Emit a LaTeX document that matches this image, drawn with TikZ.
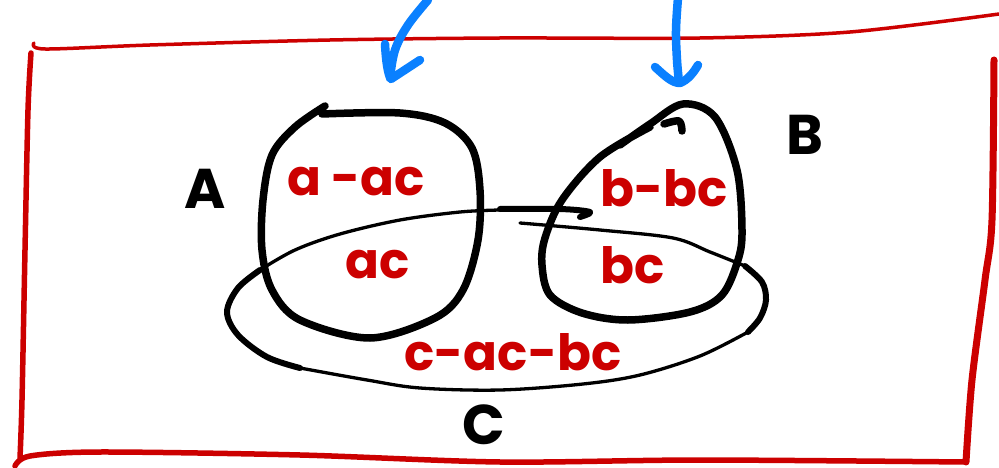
\documentclass[tikz,border=0pt]{standalone}
\usepackage{fontspec}
\setmainfont{Poppins}
\begin{document}
\begin{tikzpicture}[x=1pt,y=-1pt,
  frame/.style={draw=redink,line width=5.5pt,line cap=round,line join=round},
  setline/.style={draw=black,line width=7.5pt,line cap=round,line join=round},
  thinset/.style={draw=black,line width=3.3pt,line cap=round,line join=round},
  pointer/.style={draw=blueink,line width=8.5pt,line cap=round,line join=round},
  regionlbl/.style={text=redink,font=\fontsize{50}{50}\selectfont\bfseries,inner sep=0pt},
  setlbl/.style={text=black,font=\fontsize{56}{56}\selectfont\bfseries,inner sep=0pt}]
\definecolor{redink}{HTML}{CC0000}
\definecolor{blueink}{HTML}{0A80FF}
\useasboundingbox[fill=white] (0,0) rectangle (999,468);
% frame
\draw[frame,line width=3.5pt] plot[smooth,tension=0.5] coordinates {(34,43) (45,49) (150,45) (330,40) (500,38) (700,38) (850,32) (999,14)};
\draw[frame] plot[smooth,tension=0.5] coordinates {(31,53) (28,110) (25,250) (22,400) (20,458)};
\draw[frame] plot[smooth,tension=0.5] coordinates {(15,466) (30,456) (100,452) (300,455) (500,462) (700,460) (965,462)};
\draw[frame,line width=7pt] plot[smooth,tension=0.5] coordinates {(966,462) (972,380) (985,280) (992,220) (994,60)};
% blue arrows
\draw[pointer] plot[smooth,tension=0.6] coordinates {(428,0) (408,25) (395,50) (390,78)};
\draw[pointer] (385,44) .. controls (386,62) and (388,75) .. (391,79) -- (420,60);
\draw[pointer] plot[smooth,tension=0.6] coordinates {(678,-2) (676,30) (677,60) (679,82)};
\draw[pointer] (655,67) .. controls (665,76) and (672,83) .. (680,83) .. controls (688,80) and (694,72) .. (698,65);
% set A
\draw[setline] plot[smooth,tension=0.55] coordinates {(325,106) (295,127) (272,155) (263,200) (262,250) (272,290) (300,320) (370,338) (435,318) (463,290) (478,240) (480,190) (472,148) (445,123) (400,113) (322,114)};
% set B
\draw[setline] plot[smooth,tension=0.55] coordinates {(664,124) (679,121) (682,131)};
\draw[setline] plot[smooth,tension=0.55] coordinates {(650,127) (600,157) (562,200) (545,238) (542,265) (550,295) (582,313) (628,320) (690,312) (722,295) (738,260) (742,230) (737,170) (715,117) (683,104) (650,124) (620,145)};
% set C
\draw[thinset] plot[smooth,tension=0.55] coordinates {(520,223) (600,230) (673,238) (710,252) (745,266)};
\draw[setline,line width=6pt] plot[smooth,tension=0.55] coordinates {(745,266) (762,282) (766,300) (760,318) (748,332)};
\draw[thinset] plot[smooth,tension=0.55] coordinates {(748,332) (700,356) (640,375) (583,384) (500,390) (420,388) (367,380) (300,368)};
\draw[setline,line width=6pt] plot[smooth,tension=0.55] coordinates {(300,368) (267,357) (238,335) (227,312) (238,288) (260,270)};
\draw[thinset] plot[smooth,tension=0.55] coordinates {(260,270) (295,250) (340,234) (400,220) (460,212) (500,210)};
\draw[setline,line width=6pt] plot[smooth,tension=0.55] coordinates {(500,209) (560,209) (590,212) (580,217)};
% labels
\node[setlbl] (la) at (205,189) {A};
\node[setlbl] (lb) at (805,135) {B};
\node[setlbl] (lc) at (484,425) {C};
\node[regionlbl] (ra) at (356,182) {a -ac};
\node[regionlbl] (rac) at (378,265) {ac};
\node[regionlbl] (rb) at (664,188) {b-bc};
\node[regionlbl] (rbc) at (633,265) {bc};
\node[regionlbl] (rc) at (513,352) {c-ac-bc};
\end{tikzpicture}
\end{document}
